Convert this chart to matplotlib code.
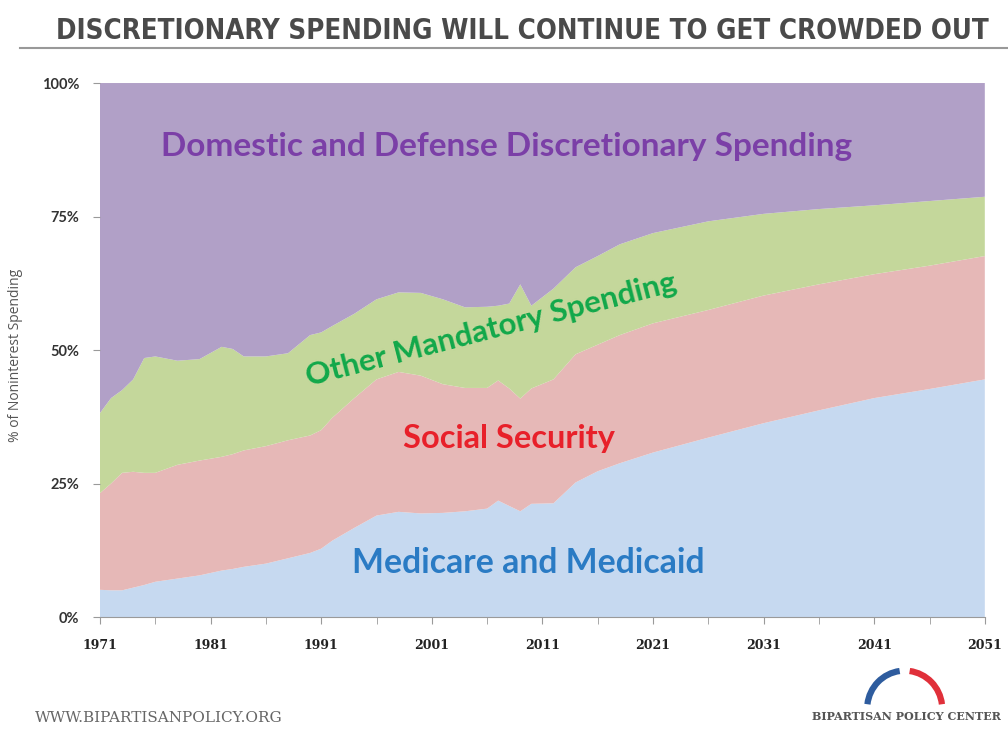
import matplotlib
matplotlib.use("Agg")
import matplotlib.pyplot as plt
from matplotlib.patches import Arc
import numpy as np

years = [1971, 1972, 1973, 1974, 1975, 1976, 1978, 1980, 1982, 1983, 1984, 1986,
         1988, 1990, 1991, 1992, 1994, 1996, 1998, 2000, 2002, 2004, 2006, 2007,
         2008, 2009, 2010, 2012, 2014, 2016, 2018, 2021, 2026, 2031, 2036, 2041,
         2046, 2051]
medicare = [5.1, 5.0, 5.0, 5.5, 6.0, 6.6, 7.2, 7.8, 8.7, 9.0, 9.4, 10.0,
            11.0, 12.0, 12.8, 14.3, 16.7, 19.0, 19.7, 19.4, 19.5, 19.8, 20.3, 21.8,
            20.8, 19.8, 21.2, 21.3, 25.2, 27.3, 28.8, 30.8, 33.6, 36.3, 38.7, 41.0,
            42.7, 44.5]
social_security = [18.1, 20.0, 22.0, 21.7, 21.0, 20.4, 21.3, 21.5, 21.3, 21.5, 21.8, 22.0,
                   22.1, 22.0, 22.2, 23.0, 24.3, 25.5, 26.2, 25.8, 24.1, 23.1, 22.6, 22.5,
                   22.0, 21.1, 21.6, 23.2, 24.0, 23.7, 24.0, 24.2, 23.9, 23.9, 23.6, 23.2,
                   23.1, 23.1]
other_mandatory = [15.0, 16.0, 15.5, 17.3, 21.5, 21.8, 19.5, 19.0, 20.6, 19.7, 17.6, 16.8,
                   16.3, 18.8, 18.3, 17.2, 15.8, 15.0, 14.9, 15.5, 15.9, 15.1, 15.2, 14.0,
                   15.9, 21.4, 15.5, 17.0, 16.3, 16.6, 17.0, 16.9, 16.6, 15.3, 14.1, 12.9,
                   12.1, 11.1]
discretionary = [61.8, 59.0, 57.5, 55.5, 51.5, 51.2, 52.0, 51.7, 49.4, 49.8, 51.2, 51.2,
                 50.6, 47.2, 46.7, 45.5, 43.2, 40.5, 39.2, 39.3, 40.5, 42.0, 41.9, 41.7,
                 41.3, 37.7, 41.7, 38.5, 34.5, 32.4, 30.2, 28.1, 25.9, 24.5, 23.6, 22.9,
                 22.1, 21.3]

x_tick_years = [1971, 1981, 1991, 2001, 2011, 2021, 2031, 2041, 2051]
y_ticks = [0, 25, 50, 75, 100]
y_tick_labels = ["0%", "25%", "50%", "75%", "100%"]

title = "DISCRETIONARY SPENDING WILL CONTINUE TO GET CROWDED OUT"

fig = plt.figure(figsize=(10.08, 7.29), dpi=100)
ax = fig.add_axes([0.0992, 0.1536, 0.8778, 0.7325])

colors = ["#C6D9F0", "#E6B8B7", "#C4D79B", "#B1A0C7"]
ax.stackplot(years, medicare, social_security, other_mandatory, discretionary,
             colors=colors, linewidth=0)
ax.set_xlim(1971, 2051)
ax.set_ylim(0, 100)

for s in ["top", "right"]:
    ax.spines[s].set_visible(False)
ax.spines["left"].set_visible(False)
ax.spines["bottom"].set_color("#9a9a9a")
ax.set_xticks(x_tick_years)
ax.set_xticks(list(range(1976, 2051, 10)), minor=True)
ax.tick_params(axis="x", which="both", direction="out", length=5, color="#9a9a9a",
               pad=11)
ax.set_xticklabels([str(y) for y in x_tick_years], fontfamily="DejaVu Serif",
                   fontweight="bold", fontsize=9, color="#222222")
ax.set_yticks(y_ticks)
ax.set_yticklabels(y_tick_labels, fontfamily="Lato", fontweight="bold",
                   fontsize=10.5, color="#333333")
ax.tick_params(axis="y", direction="out", length=5, color="#9a9a9a", pad=10)
fig.text(0.015, 0.513, "% of Noninterest Spending", rotation=90, ha="center",
         va="center", fontfamily="Open Sans", fontsize=10, color="#555555")

ax.text(2007.8, 88.1, "Domestic and Defense Discretionary Spending", ha="center",
        va="center", fontfamily="Lato", fontweight="bold", fontsize=24,
        color="#7B3FA7")
ax.text(2006.4, 53.9, "Other Mandatory Spending", ha="center", va="center",
        fontfamily="Lato", fontweight="bold", fontsize=22.5, color="#11A84A",
        rotation=14.5, rotation_mode="anchor")
ax.text(2008.0, 33.5, "Social Security", ha="center", va="center",
        fontfamily="Lato", fontweight="bold", fontsize=23.4, color="#E8202A")
ax.text(2009.7, 10.1, "Medicare and Medicaid", ha="center", va="center",
        fontfamily="Lato", fontweight="bold", fontsize=24.3, color="#2A7BC4")

fig.text(0.518, 0.958, title, ha="center", va="center", fontfamily="DejaVu Sans",
         fontweight="bold", fontstretch="condensed", fontsize=19.8, color="#4a4a4a")
fig.add_artist(plt.Line2D([0.02, 1.0], [0.934, 0.934], color="#999999", lw=1.5))

fig.text(0.035, 0.006, "WWW.BIPARTISANPOLICY.ORG", ha="left", va="bottom",
         fontfamily="DejaVu Serif", fontsize=11, color="#666666")
fig.text(0.993, 0.01, "BIPARTISAN POLICY CENTER", ha="right", va="bottom",
         fontfamily="DejaVu Serif", fontweight="bold", fontsize=8, color="#555555")

# logo arch
lax = fig.add_axes([0.845, 0.032, 0.105, 0.052])
lax.set_xlim(-1.2, 1.2)
lax.set_ylim(-0.2, 1.1)
lax.axis("off")
lax.add_patch(Arc((0, -0.3), 1.7, 2.6, theta1=95, theta2=170, color="#2E5C9E", lw=4.5))
lax.add_patch(Arc((0, -0.3), 1.7, 2.6, theta1=10, theta2=85, color="#E0303A", lw=4.5))

fig.savefig("out.png", dpi=100)
